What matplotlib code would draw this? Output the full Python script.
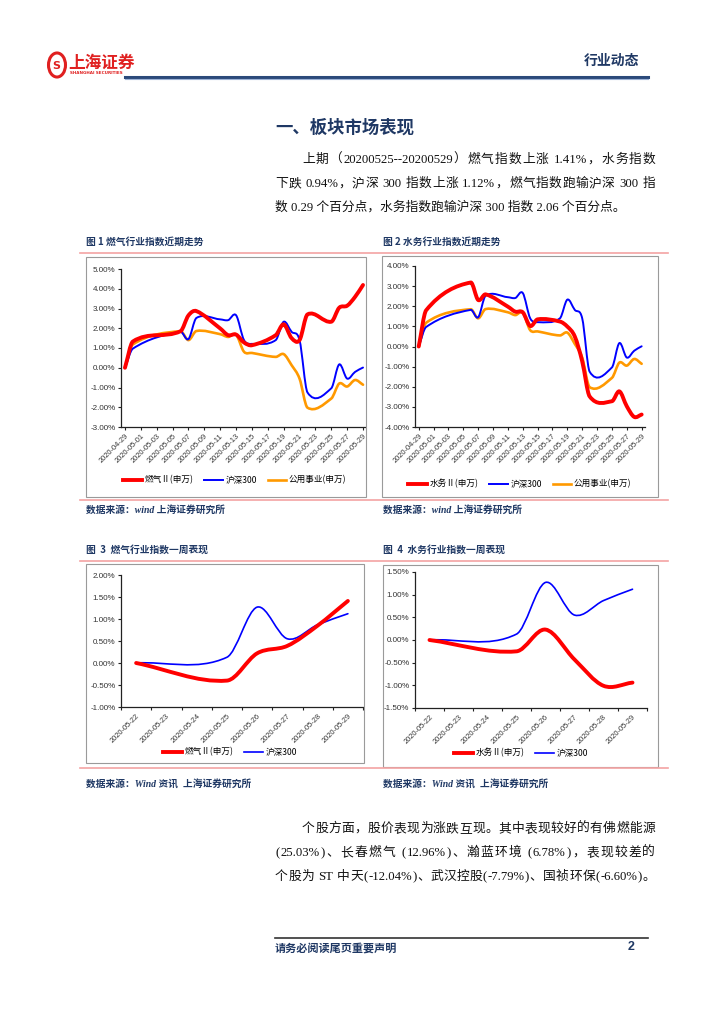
import re
import numpy as np
import matplotlib
matplotlib.use('Agg')
import matplotlib.pyplot as plt
from matplotlib.path import Path
from matplotlib.patches import PathPatch, Rectangle, Circle
from matplotlib.lines import Line2D

plt.rcParams['font.family'] = ['Liberation Serif', 'Noto Sans CJK SC', 'DejaVu Sans']

# ---- data: one month (trading days) ----
month_dates = ['2020-04-29', '2020-04-30', '2020-05-06', '2020-05-07', '2020-05-08',
               '2020-05-11', '2020-05-12', '2020-05-13', '2020-05-14', '2020-05-15',
               '2020-05-18', '2020-05-19', '2020-05-20', '2020-05-21', '2020-05-22',
               '2020-05-25', '2020-05-26', '2020-05-27', '2020-05-28', '2020-05-29']
gas_month = [0, 1.33, 1.85, 2.65, 2.87, 1.99, 1.65, 1.68, 1.28, 1.14,
             1.65, 2.20, 1.50, 1.40, 2.70, 2.33, 3.04, 3.14, 3.59, 4.19]
water_month = [0, 1.80, 3.18, 2.31, 2.59, 1.98, 1.73, 1.70, 1.02, 1.35,
               1.24, 0.99, 0.50, -0.74, -2.48, -2.72, -2.23, -2.97, -3.50, -3.38]
hs300_month = [0, 0.97, 1.82, 1.45, 2.52, 2.45, 2.41, 2.66, 1.40, 1.21,
               1.40, 2.33, 1.82, 1.40, -1.25, -1.04, 0.17, -0.55, -0.21, 0.01]
util_month = [0, 1.18, 1.85, 1.40, 1.86, 1.70, 1.56, 1.68, 0.81, 0.75,
              0.55, 0.69, 0.13, -0.55, -2.02, -1.56, -0.80, -0.95, -0.62, -0.86]
month_ticks = ['2020-04-29', '2020-05-01', '2020-05-03', '2020-05-05', '2020-05-07',
               '2020-05-09', '2020-05-11', '2020-05-13', '2020-05-15', '2020-05-17',
               '2020-05-19', '2020-05-21', '2020-05-23', '2020-05-25', '2020-05-27',
               '2020-05-29']

# ---- data: one week ----
week_dates = ['2020-05-22', '2020-05-25', '2020-05-26', '2020-05-27', '2020-05-28', '2020-05-29']
gas_week = [0, -0.40, 0.22, 0.39, 0.85, 1.41]
water_week = [0, -0.25, 0.23, -0.43, -1.01, -0.94]
hs300_week = [0, 0.13, 1.27, 0.55, 0.87, 1.12]
week_ticks = ['2020-05-22', '2020-05-23', '2020-05-24', '2020-05-25',
              '2020-05-26', '2020-05-27', '2020-05-28', '2020-05-29']

RED = '#FF0000'
BLUE = '#0000FF'
ORANGE = '#FF9900'
NAVY = '#1F3864'
PINK = '#F4A3A3'

W, H = 724, 1024
fig = plt.figure(figsize=(W / 100, H / 100), dpi=100)
renderer = fig.canvas.get_renderer()


def fx(x):
    return x / W


def fy(y):
    return 1 - y / H


def put(x, y, s, **kw):
    kw.setdefault('va', 'center')
    return fig.text(fx(x), fy(y), s, **kw)


def justify(x0, x1, y, s, **kw):
    # spread the tokens of one line evenly between x0 and x1
    tokens = re.findall(r'[A-Za-z0-9.%\-]+| |\S', s)
    arts, widths = [], []
    for t in tokens:
        if t == ' ':
            arts.append(None)
            widths.append(kw.get('fontsize', 9) * 0.35)
        else:
            a = put(0, y, t, **kw)
            arts.append(a)
            widths.append(a.get_window_extent(renderer).width)
    gap = (x1 - x0 - sum(widths)) / max(len(tokens) - 1, 1)
    x = x0
    for a, w in zip(arts, widths):
        if a is not None:
            a.set_x(fx(x))
        x += w + gap


def hline(x0, x1, y, color, lw):
    fig.add_artist(Line2D([fx(x0), fx(x1)], [fy(y), fy(y)], color=color, lw=lw))


def day_num(dates, start):
    return (np.array(dates, dtype='datetime64[D]') - np.datetime64(start)).astype(int)


def smooth_line(ax, x, y, color, lw):
    # Excel-style smoothed line: cubic Bezier through the data points
    x = np.asarray(x, float)
    y = np.asarray(y, float)
    n = len(x)
    m = np.zeros(n)
    for i in range(n):
        a = max(i - 1, 0)
        b = min(i + 1, n - 1)
        m[i] = (y[b] - y[a]) / (x[b] - x[a])
    verts = [(x[0], y[0])]
    codes = [Path.MOVETO]
    for i in range(n - 1):
        dx = x[i + 1] - x[i]
        verts += [(x[i] + dx / 3, y[i] + m[i] * dx / 3),
                  (x[i + 1] - dx / 3, y[i + 1] - m[i + 1] * dx / 3),
                  (x[i + 1], y[i + 1])]
        codes += [Path.CURVE4] * 3
    ax.add_patch(PathPatch(Path(verts, codes), fill=False, edgecolor=color, lw=lw,
                           capstyle='round', joinstyle='round'))


def make_axes(x0, x1, y0, y1):
    ax = fig.add_axes([fx(x0), fy(y1), (x1 - x0) / W, (y1 - y0) / H])
    for s in ['top', 'right']:
        ax.spines[s].set_visible(False)
    for s in ['left', 'bottom']:
        ax.spines[s].set_color('#222222')
        ax.spines[s].set_linewidth(0.9)
    ax.tick_params(axis='both', length=2.5, width=0.8, color='#222222', pad=1.5,
                   labelcolor='#333333')
    ax.patch.set_alpha(0)
    return ax


def pct_axis(ax, lo, hi, step, fmt):
    ax.set_ylim(lo, hi)
    ticks = np.arange(lo, hi + step / 2, step)
    ax.set_yticks(ticks)
    ax.set_yticklabels([fmt.format(t) for t in ticks], fontfamily='Liberation Sans', fontsize=5.8)


def date_axis(ax, labels, start, xlim, between=False):
    pos = day_num(labels, start)
    ax.set_xlim(*xlim)
    ax.set_xticks(pos)
    ax.set_xticklabels(labels, rotation=45, ha='right', va='top', rotation_mode='anchor',
                       fontfamily='Liberation Sans', fontsize=5.4)
    if between:
        ax.tick_params(axis='x', which='major', length=0, pad=4)
        ax.set_xticks(np.arange(pos[0] - 0.5, pos[-1] + 1, 1), minor=True)
        ax.tick_params(axis='x', which='minor', length=2.5, width=0.8, color='#222222')


def frame(x0, y0, x1, y1):
    fig.add_artist(Rectangle((fx(x0), fy(y1)), (x1 - x0) / W, (y1 - y0) / H,
                             fill=False, edgecolor='#9a9a9a', lw=0.8))


def legend(ax, items, xc, y):
    handles = [Line2D([], [], color=c, lw=lw) for _, c, lw in items]
    ax.legend(handles, [t for t, _, _ in items], loc='center', ncol=len(items),
              bbox_to_anchor=(fx(xc), fy(y)), bbox_transform=fig.transFigure,
              frameon=False, prop={'family': ['Noto Sans CJK SC', 'DejaVu Sans'], 'size': 6.2},
              handlelength=2.2, handletextpad=0.3, columnspacing=1.2, borderpad=0)


# ---- header ----
fig.add_artist(Circle((fx(57), fy(65)), 8.5 / W, transform=fig.transFigure,
                      fill=False, edgecolor='#E02020', lw=2.2))
put(57, 65, '$\\mathbf{S}$', color='#E02020', fontsize=8, ha='center')
put(68, 63, '上海证券', color='#E02020', fontsize=12, fontweight='bold',
    fontfamily=['Noto Sans CJK SC'])
put(70, 73.5, 'SHANGHAI SECURITIES', color='#E02020', fontsize=3, fontweight='bold',
    fontfamily='DejaVu Sans')
put(584, 61, '行业动态', color=NAVY, fontsize=10, fontweight='bold',
    fontfamily=['Noto Sans CJK SC'])
hline(125, 648, 76.5, '#2B4A7A', 2.2)
hline(125, 648, 78.5, '#9DB3D6', 0.8)

# ---- section title and paragraph ----
put(275, 128, '一、板块市场表现', color=NAVY, fontsize=12.5, fontweight='bold',
    fontfamily=['Noto Sans CJK SC'])
body = dict(color='#111111', fontsize=9.2)
justify(302, 655, 160, '上期（20200525--20200529）燃气指数上涨 1.41%，水务指数', **body)
justify(275, 655, 184, '下跌 0.94%，沪深 300 指数上涨 1.12%，燃气指数跑输沪深 300 指', **body)
put(275, 207, '数 0.29 个百分点，水务指数跑输沪深 300 指数 2.06 个百分点。', **body)

# ---- captions ----
cap = dict(color=NAVY, fontsize=7, fontweight='bold', fontfamily=['Noto Sans CJK SC'])
src = dict(color=NAVY, fontsize=7, fontweight='bold', style='italic',
           fontfamily=['Liberation Serif', 'Noto Sans CJK SC'])
put(86, 242, '图 1 燃气行业指数近期走势', **cap)
put(383, 242, '图 2 水务行业指数近期走势', **cap)
hline(80, 668, 253, PINK, 1.2)
hline(80, 668, 500, PINK, 1.2)
put(86, 510, '数据来源：wind 上海证券研究所', **src)
put(383, 510, '数据来源：wind 上海证券研究所', **src)
put(86, 550, '图  3  燃气行业指数一周表现', **cap)
put(383, 550, '图  4  水务行业指数一周表现', **cap)
hline(80, 668, 561, PINK, 1.2)
hline(80, 668, 768, PINK, 1.2)
put(86, 785, '数据来源：Wind 资讯  上海证券研究所', **src)
put(383, 785, '数据来源：Wind 资讯  上海证券研究所', **src)

frame(86, 257, 366, 497)
frame(382, 256, 658, 497)
frame(86, 564, 364, 763)
frame(383, 565, 658, 767)

# ---- chart 1 ----
xm = day_num(month_dates, '2020-04-29')
ax1 = make_axes(121, 365, 269, 427)
smooth_line(ax1, xm, util_month, ORANGE, 1.9)
smooth_line(ax1, xm, hs300_month, BLUE, 1.4)
smooth_line(ax1, xm, gas_month, RED, 2.8)
pct_axis(ax1, -3, 5, 1, '{:.2f}%')
date_axis(ax1, month_ticks, '2020-04-29', (-0.5, 30.25))
legend(ax1, [('燃气Ⅱ(申万)', RED, 2.8), ('沪深300', BLUE, 1.4), ('公用事业(申万)', ORANGE, 1.9)],
       235, 480)

# ---- chart 2 ----
ax2 = make_axes(415, 645, 266, 427)
smooth_line(ax2, xm, util_month, ORANGE, 1.9)
smooth_line(ax2, xm, hs300_month, BLUE, 1.4)
smooth_line(ax2, xm, water_month, RED, 2.8)
pct_axis(ax2, -4, 4, 1, '{:.2f}%')
date_axis(ax2, month_ticks, '2020-04-29', (-0.5, 30.45))
legend(ax2, [('水务Ⅱ(申万)', RED, 2.8), ('沪深300', BLUE, 1.4), ('公用事业(申万)', ORANGE, 1.9)],
       520, 484)

# ---- chart 3 ----
xw = day_num(week_dates, '2020-05-22')
ax3 = make_axes(121, 363, 575, 707)
smooth_line(ax3, xw, hs300_week, BLUE, 1.2)
smooth_line(ax3, xw, gas_week, RED, 2.8)
pct_axis(ax3, -1, 2, 0.5, '{:.2f}%')
date_axis(ax3, week_ticks, '2020-05-22', (-0.45, 7.47), between=True)
legend(ax3, [('燃气Ⅱ(申万)', RED, 2.8), ('沪深300', BLUE, 1.2)], 230, 752)

# ---- chart 4 ----
ax4 = make_axes(415, 647, 572, 708)
smooth_line(ax4, xw, hs300_week, BLUE, 1.2)
smooth_line(ax4, xw, water_week, RED, 2.8)
pct_axis(ax4, -1.5, 1.5, 0.5, '{:.2f}%')
date_axis(ax4, week_ticks, '2020-05-22', (-0.5, 7.5), between=True)
legend(ax4, [('水务Ⅱ(申万)', RED, 2.8), ('沪深300', BLUE, 1.2)], 521, 753)

# ---- bottom paragraph ----
justify(302, 655, 829, '个股方面，股价表现为涨跌互现。其中表现较好的有佛燃能源', **body)
justify(275, 655, 853, '(25.03%)、长春燃气 (12.96%)、瀚蓝环境 (6.78%)，表现较差的', **body)
justify(275, 655, 877, '个股为 ST 中天(-12.04%)、武汉控股(-7.79%)、国祯环保(-6.60%)。', **body)

# ---- footer ----
hline(275, 648, 938, '#333333', 1.2)
put(275, 948, '请务必阅读尾页重要声明', color=NAVY, fontsize=8, fontweight='bold',
    fontfamily=['Noto Sans CJK SC'])
put(628, 947, '2', color=NAVY, fontsize=9, fontweight='bold', fontfamily='Liberation Sans')

fig.savefig('out.png', dpi=100)
